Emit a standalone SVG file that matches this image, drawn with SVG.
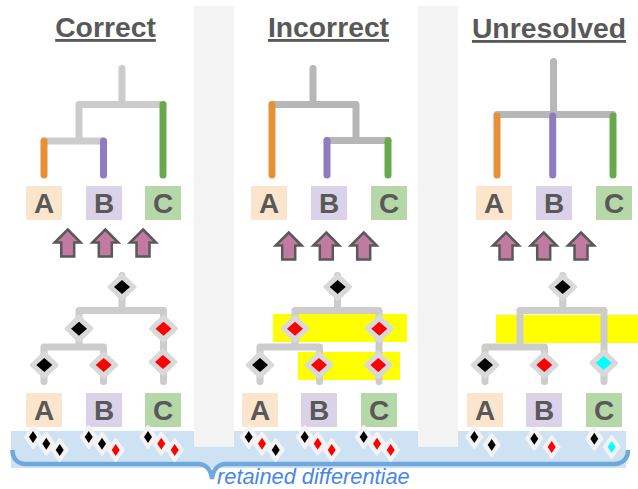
<svg xmlns="http://www.w3.org/2000/svg" width="638" height="489" viewBox="0 0 638 489">
<style>
.t{font-family:"Liberation Sans",Arial,sans-serif;font-weight:700;fill:#595959}
.h{font-size:28.3px;text-decoration:underline;text-anchor:middle}
.l{font-size:28px;text-anchor:middle}
.e{fill:none;stroke:#cccccc;stroke-width:7;stroke-linecap:round;stroke-linejoin:round}
.d{stroke:#b7b7b7}
.o{fill:none;stroke-width:7;stroke-linecap:round}
.y{fill:#ffff00}
.ar{fill:#c27ba0;stroke:#595959;stroke-width:2.5;stroke-linejoin:miter}
.ring{fill:#f3f3f3;stroke:#f3f3f3;stroke-width:3;stroke-linejoin:round}
.nr{fill:#d9d9d9;stroke:#d9d9d9;stroke-width:3;stroke-linejoin:round}
</style>
<defs>
<path id="arr" class="ar" d="M0-13.500L13-0.500H6.500V13.500H-6.500V-0.500H-13Z"/>
<path id="nb" class="nr" d="M0-12.500L13 0L0 12.500L-13 0Z"/>
<g id="nk"><use href="#nb"/><path d="M0-7L8 0L0 7L-8 0Z" fill="#000"/></g>
<g id="nr"><use href="#nb"/><path d="M0-7L8 0L0 7L-8 0Z" fill="#f00"/></g>
<g id="nc"><use href="#nb"/><path d="M0-7L8 0L0 7L-8 0Z" fill="#0ff"/></g>
<path id="sb" class="ring" d="M0-10.500L7.500 0L0 10.500L-7.500 0Z"/>
<g id="sk"><use href="#sb"/><path d="M0-6L4 0L0 6L-4 0Z" fill="#000"/></g>
<g id="sr"><use href="#sb"/><path d="M0-6L4 0L0 6L-4 0Z" fill="#f00"/></g>
<g id="sc"><use href="#sb"/><path d="M0-6L4 0L0 6L-4 0Z" fill="#0ff"/></g>
</defs>
<rect width="638" height="489" fill="#fff"/>
<path d="M11 431H626V468H11Z" fill="#cfe2f3"/>
<rect x="194" y="6" width="40" height="441" fill="#f3f3f3"/>
<rect x="418" y="6" width="40" height="441" fill="#f3f3f3"/>
<path id="brace" d="M12.500 450C12.500 459 18 464 26 464H198C206 464 211 470 212 479C213 470 218 464 226 464H614C622 464 628 459 628 450" fill="none" stroke="#6fa8dc" stroke-width="4.500"/>
<rect class="y" x="273" y="314" width="134" height="28"/>
<rect class="y" x="298" y="352" width="102" height="28"/>
<rect class="y" x="496" y="315" width="142" height="28"/>
<g id="titles">
<text class="t h" x="105.500" y="37">Correct</text>
<text class="t h" x="328.500" y="37">Incorrect</text>
<text class="t h" x="549" y="38">Unresolved</text>
</g>
<g id="connectors">
<path class="e" d="M122 68.500V104.500M79 104.500H163M79 104.500V141M44 141H103.500"/>
<path class="o" stroke="#e69138" d="M44 141V175"/><path class="o" stroke="#8e7cc3" d="M103.500 141V175"/><path class="o" stroke="#6aa84f" d="M163 104.500V175"/>
<path class="e d" d="M313 68.500V104.500M272 104.500H356V140.500M327 140.500H388"/>
<path class="o" stroke="#e69138" d="M272 104.500V175"/><path class="o" stroke="#8e7cc3" d="M327 140.500V175"/><path class="o" stroke="#6aa84f" d="M388 140.500V175"/>
<path class="e d" d="M553.500 61.500V114.500M497 114.500H613"/>
<path class="o" stroke="#e69138" d="M497 116V175"/><path class="o" stroke="#8e7cc3" d="M552.700 116V175"/><path class="o" stroke="#6aa84f" d="M613 116V175"/>
<path class="e" d="M122 275.500V310.500M79 310.500H163.500V381.500M79 310.500V347M44 347H103.500M44 347V381.500M103.500 347V381.500"/>
<path class="e" d="M337.500 275.500V310.500M295 310.500H379V381.500M295 310.500V347M260 347H319.500M260 347V381.500M319.500 347V381.500"/>
<path class="e" d="M562.700 275.500V310.500M520 310.500H604V381.500M520 310.500V347M485 347H544.500M485 347V381.500M544.500 347V381.500"/>
</g>
<g id="top-correct">
<g id="tA1"><rect x="26" y="186" width="36" height="34" fill="#fce5cd"/><text class="t l" x="44" y="213">A</text></g>
<g id="tB1"><rect x="86" y="186" width="36" height="34" fill="#d9d2e9"/><text class="t l" x="104" y="213">B</text></g>
<g id="tC1"><rect x="145" y="186" width="36" height="34" fill="#b6d7a8"/><text class="t l" x="163" y="213">C</text></g>
<use href="#arr" x="67.700" y="243"/><use href="#arr" x="105.300" y="243"/><use href="#arr" x="143" y="243"/>
</g>
<g id="top-incorrect">
<g id="tA2"><rect x="251" y="186" width="36" height="34" fill="#fce5cd"/><text class="t l" x="269" y="213">A</text></g>
<g id="tB2"><rect x="311" y="186" width="36" height="34" fill="#d9d2e9"/><text class="t l" x="329" y="213">B</text></g>
<g id="tC2"><rect x="371" y="186" width="36" height="34" fill="#b6d7a8"/><text class="t l" x="389" y="213">C</text></g>
<use href="#arr" x="288.700" y="246"/><use href="#arr" x="326.300" y="246"/><use href="#arr" x="363.700" y="246"/>
</g>
<g id="top-unresolved">
<g id="tA3"><rect x="476" y="186" width="36" height="34" fill="#fce5cd"/><text class="t l" x="494" y="213">A</text></g>
<g id="tB3"><rect x="536" y="186" width="36" height="34" fill="#d9d2e9"/><text class="t l" x="554" y="213">B</text></g>
<g id="tC3"><rect x="596" y="186" width="36" height="34" fill="#b6d7a8"/><text class="t l" x="614" y="213">C</text></g>
<use href="#arr" x="506" y="246"/><use href="#arr" x="543.700" y="246"/><use href="#arr" x="581" y="246"/>
</g>
<g id="tree-correct">
<use href="#nk" x="122" y="287"/><use href="#nk" x="79" y="328.700"/><use href="#nr" x="163.500" y="328.700"/><use href="#nk" x="44.300" y="365"/><use href="#nr" x="103.700" y="365"/><use href="#nr" x="163" y="362"/>
</g>
<g id="tree-incorrect">
<use href="#nk" x="337.700" y="287"/><use href="#nr" x="295" y="328.700"/><use href="#nr" x="379.300" y="328.700"/><use href="#nk" x="260" y="365"/><use href="#nr" x="319" y="365"/><use href="#nr" x="378.300" y="365"/>
</g>
<g id="tree-unresolved">
<use href="#nk" x="562.700" y="287"/><use href="#nk" x="485" y="365"/><use href="#nr" x="544.300" y="365"/><use href="#nc" x="603.700" y="363"/>
</g>
<g id="bot-correct">
<g id="bA1"><rect x="26" y="393" width="36" height="34" fill="#fce5cd"/><text class="t l" x="44" y="420">A</text></g>
<g id="bB1"><rect x="86" y="393" width="36" height="34" fill="#d9d2e9"/><text class="t l" x="104" y="420">B</text></g>
<g id="bC1"><rect x="145" y="393" width="36" height="34" fill="#b6d7a8"/><text class="t l" x="163" y="420">C</text></g>
</g>
<g id="bot-incorrect">
<g id="bA2"><rect x="242" y="393" width="36" height="34" fill="#fce5cd"/><text class="t l" x="260" y="420">A</text></g>
<g id="bB2"><rect x="301" y="393" width="36" height="34" fill="#d9d2e9"/><text class="t l" x="319" y="420">B</text></g>
<g id="bC2"><rect x="361" y="393" width="36" height="34" fill="#b6d7a8"/><text class="t l" x="379" y="420">C</text></g>
</g>
<g id="bot-unresolved">
<g id="bA3"><rect x="467" y="393" width="36" height="34" fill="#fce5cd"/><text class="t l" x="485" y="420">A</text></g>
<g id="bB3"><rect x="526" y="393" width="36" height="34" fill="#d9d2e9"/><text class="t l" x="544" y="420">B</text></g>
<g id="bC3"><rect x="586" y="393" width="36" height="34" fill="#b6d7a8"/><text class="t l" x="604" y="420">C</text></g>
</g>
<g id="strip">
<use href="#sk" x="33" y="437"/><use href="#sk" x="46.300" y="443.700"/><use href="#sk" x="59.700" y="450"/>
<use href="#sk" x="88.700" y="437"/><use href="#sk" x="102" y="443.700"/><use href="#sr" x="115.700" y="450"/>
<use href="#sk" x="148" y="437"/><use href="#sr" x="161.300" y="443.700"/><use href="#sr" x="174.700" y="450"/>
<use href="#sk" x="248.700" y="437"/><use href="#sr" x="262" y="443.700"/><use href="#sk" x="275.700" y="450"/>
<use href="#sk" x="304.700" y="437"/><use href="#sr" x="317.700" y="443.700"/><use href="#sr" x="331.700" y="450"/>
<use href="#sk" x="363.700" y="437"/><use href="#sr" x="377" y="443.700"/><use href="#sr" x="390.700" y="450"/>
<use href="#sk" x="474.300" y="437"/><use href="#sk" x="491.700" y="445"/>
<use href="#sk" x="534.300" y="438.700"/><use href="#sr" x="551.700" y="447"/>
<use href="#sk" x="594.300" y="438.700"/><use href="#sc" x="611.700" y="447"/>
</g>
<text id="caption" x="217" y="484.300" font-family="Liberation Sans, Arial, sans-serif" font-style="italic" font-size="21.800" fill="#4a86e8">retained differentiae</text>
</svg>
